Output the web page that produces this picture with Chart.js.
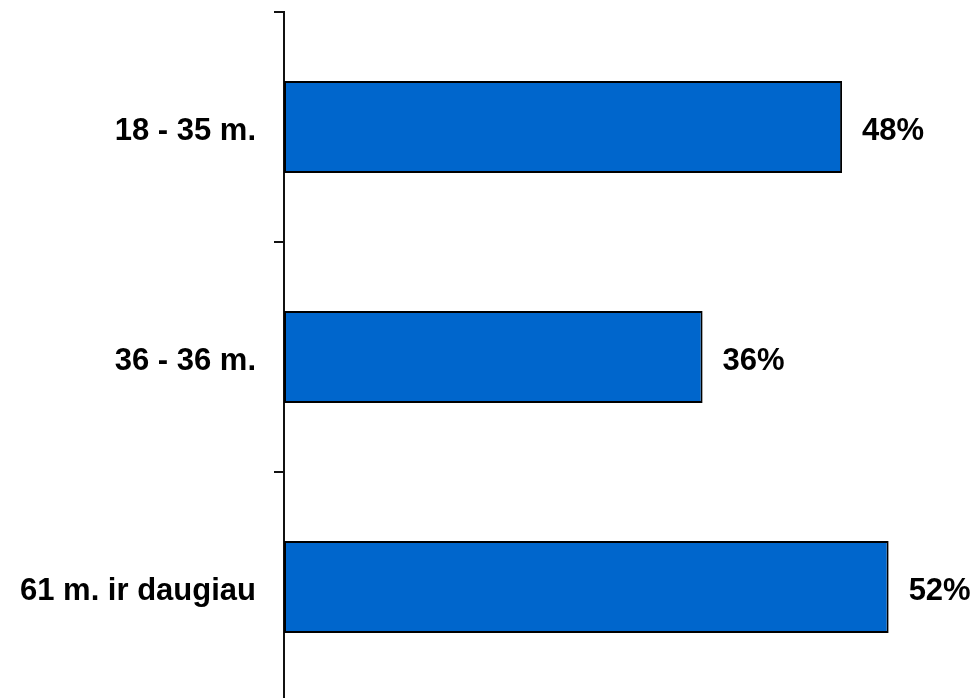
<!DOCTYPE html>
<html lang="lt">
<head>
    <meta charset="UTF-8">
    <meta name="viewport" content="width=device-width, initial-scale=1.0">
    <script src="https://cdn.jsdelivr.net/npm/chart.js"></script>
    <title>Amžiaus grupės</title>
    <style>
        body { margin: 0; overflow: hidden; background: #fff; }
    </style>
</head>
<body>
    <canvas id="ages" width="977" height="702"></canvas>
    <script>
        // data
        const ageGroups = ['18 - 35 m.', '36 - 36 m.', '61 m. ir daugiau'];
        const shares = [48, 36, 52];
        const xMax = 59.6;

        // writes "48%" etc. just right of each bar
        const valueLabels = {
            id: 'valueLabels',
            afterDatasetsDraw(chart) {
                const ctx = chart.ctx;
                const meta = chart.getDatasetMeta(0);
                ctx.save();
                ctx.font = 'bold 31px "Liberation Sans", Arial, sans-serif';
                ctx.fillStyle = '#000';
                ctx.textAlign = 'left';
                ctx.textBaseline = 'middle';
                meta.data.forEach((bar, i) => {
                    ctx.fillText(shares[i] + '%', bar.x + 20, bar.y + 4);
                });
                ctx.restore();
            }
        };

        const ctx = document.getElementById('ages');
        new Chart(ctx, {
            type: 'bar',
            data: {
                labels: ageGroups,
                datasets: [{
                    data: shares,
                    backgroundColor: '#0066cc',
                    borderColor: '#000',
                    borderWidth: 2,
                    borderSkipped: false,
                    barPercentage: 0.4,
                    categoryPercentage: 1
                }]
            },
            options: {
                indexAxis: 'y',
                responsive: false,
                animation: false,
                layout: { padding: { top: 12, left: 0, right: 0, bottom: 0 } },
                plugins: {
                    legend: { display: false },
                    tooltip: { enabled: false }
                },
                scales: {
                    x: {
                        display: false,
                        min: 0,
                        max: xMax
                    },
                    y: {
                        afterFit(scale) {
                            scale.width = 284;
                            scale.paddingTop = 0;
                            scale.paddingBottom = 0;
                        },
                        border: { display: true, color: '#111', width: 2 },
                        grid: {
                            offset: true,
                            drawOnChartArea: false,
                            drawTicks: true,
                            tickLength: 10,
                            color: '#111',
                            lineWidth: 2
                        },
                        ticks: {
                            color: '#000',
                            padding: 18,
                            labelOffset: 4,
                            font: { family: '"Liberation Sans", Arial, sans-serif', size: 31, weight: 'bold' }
                        }
                    }
                }
            },
            plugins: [valueLabels]
        });
    </script>
</body>
</html>
